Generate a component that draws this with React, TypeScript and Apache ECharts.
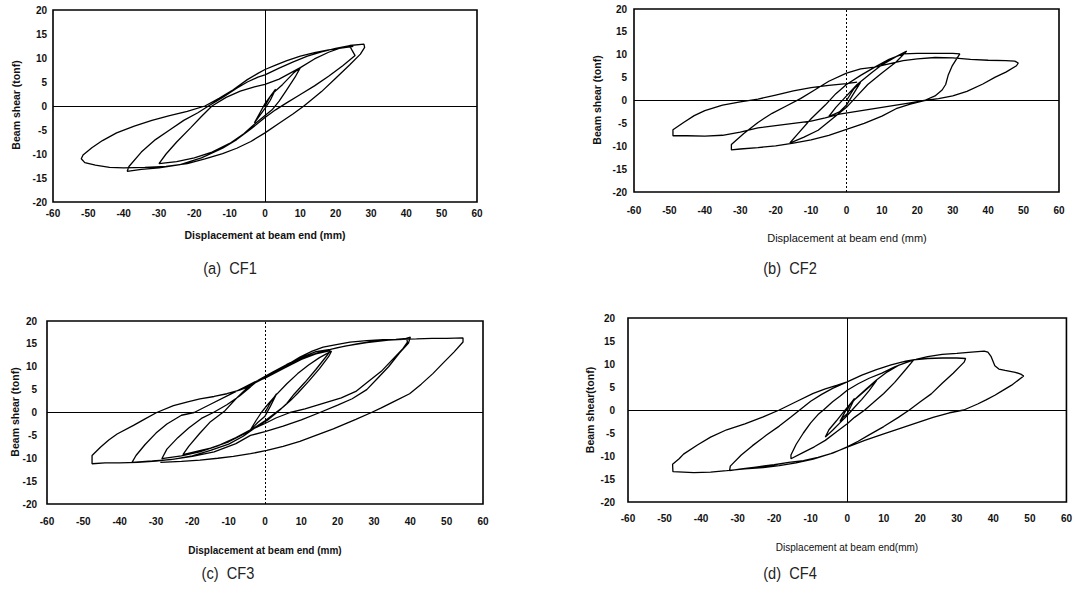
import React, { useEffect, useRef } from "react";
import * as echarts from "echarts";

// ---------- tick values ----------
const xTicks = [-60, -50, -40, -30, -20, -10, 0, 10, 20, 30, 40, 50, 60];
const yTicks = [-20, -15, -10, -5, 0, 5, 10, 15, 20];

// ---------- CF1 (displacement mm, shear tonf) ----------
const cf1Small: number[][] = [[0,0],[1.5,2],[3,3.5],[1.5,1.2],[0,-0.5],[-1.5,-2],[-3,-3.5],[-1.5,-1.5],[0,0.5],[2,2.5],[5,4.5],[8,6.8],[10,8]];
const cf1Cycle1: number[][] = [[10,8],[8.5,6],[6,3.2],[4,1],[2,-0.8],[0,-2],[-3,-3.8],[-6,-5.8],[-10,-7.8],[-15,-9.6],[-20,-10.8],[-25,-11.6],[-30,-12],[-28,-10],[-25,-7.5],[-21,-4.5],[-18,-2.2],[-15,0],[-11,1.8],[-7,3.1],[-3,4],[0,4.5],[4,5.6],[7,6.8],[10,8],[14,9.8],[18,11.2],[21,12],[24,12.5]];
const cf1Cycle2: number[][] = [[24,12.5],[24.5,11.8],[25.5,10.5],[22,8.4],[18,6.2],[14,4.2],[10,2.4],[6,0.6],[3,-0.8],[0,-2.4],[-4,-4.8],[-8,-7],[-12,-8.8],[-18,-10.8],[-24,-12.2],[-30,-12.9],[-35,-13.2],[-39,-13.6],[-38.5,-12.6],[-35,-9.6],[-31,-7],[-27,-5],[-23,-3],[-19,-1.4],[-16,0],[-12,1.8],[-8,3.7],[-5,5],[-2,6],[0,6.5],[4,7.9],[8,9.2],[12,10.4],[16,11.3],[20,12],[24,12.6],[28,12.9],[28.2,12.2]];
const cf1Cycle3: number[][] = [[28.2,12.2],[27,10.8],[24,8.6],[20,5.8],[16,3],[13,1.2],[11,0],[8,-1.6],[4,-3.6],[0,-5.6],[-4,-7.4],[-8,-8.8],[-12,-9.9],[-17,-11],[-22,-12],[-28,-12.6],[-34,-12.8],[-40,-12.9],[-44,-12.8],[-48,-12.3],[-51,-11.8],[-52,-11],[-51.5,-10.2],[-49,-8.7],[-46,-7.2],[-42,-5.6],[-37,-4.2],[-32,-3],[-27,-2],[-22,-1.1],[-17,0],[-13,1.6],[-9,3.4],[-5,5.5],[-2,6.8],[0,7.6],[3,8.5],[6,9.4],[10,10.4],[14,11.1],[18,11.7],[22,12.1],[25,12.4]];

// ---------- CF2 ----------
const cf2Small: number[][] = [[0,0],[2,2.5],[4,4],[2,1.5],[0,-1],[-2,-2.5],[-5,-3.5],[-3,-1.5],[0,1],[3,3.5],[7,6],[10,7.8],[14,9.6],[17,10.8]];
const cf2Cycle1: number[][] = [[17,10.8],[14,8.4],[10,6],[6,3.5],[3,1],[0,-1.5],[-4,-4],[-8,-6.5],[-12,-8],[-16,-9.3],[-14,-7.5],[-10,-4],[-6,-1],[-3,1.5],[0,3.5],[4,5.5],[8,7.3],[12,9],[16,10.2],[20,10.3],[25,10.3],[30,10.3],[32,10.2]];
const cf2Cycle2: number[][] = [[32,10.2],[31,9],[29.8,7.5],[28.7,5.5],[28,3.5],[27,2.3],[25,1],[22,0],[18,-0.8],[14,-1.8],[10,-3.4],[5,-5],[0,-6.3],[-5,-7.6],[-10,-8.6],[-15,-9.3],[-20,-9.9],[-25,-10.3],[-30,-10.6],[-32.5,-10.8],[-32.5,-9.6],[-29,-7.2],[-25,-4.8],[-21,-2.8],[-17,-1.2],[-13,0.4],[-9,2.3],[-5,4.2],[0,6],[4,6.9],[8,7.3],[12,8],[16,8.7],[20,9.1],[25,9.4],[30,9.3],[35,9],[40,8.8],[45,8.7],[47.5,8.6],[48.5,8.2],[48,7.6]];
const cf2Cycle3: number[][] = [[48,7.6],[45,6.2],[42,5.1],[38.5,3.6],[34,2],[30,1],[26,0.4],[22,0],[18,-0.5],[14,-1],[10,-1.5],[6,-2],[2,-2.5],[-2,-3],[-6,-3.8],[-10,-4.5],[-15,-5],[-20,-5.5],[-25,-6],[-30,-6.9],[-35,-7.6],[-40,-7.8],[-45,-7.7],[-49,-7.7],[-49,-6.4],[-46,-4.8],[-43,-3.3],[-40,-2.2],[-35,-1],[-30,-0.3],[-25,0.3],[-20,1.2],[-15,2.1],[-10,2.8],[-5,3.3],[0,3.7],[3,4]];

// ---------- CF3 ----------
const cf3Small: number[][] = [[0,0],[1.5,2.2],[3.2,4.1],[1.5,1.4],[0,-0.8],[-2,-2.2],[-4,-3.8],[-2.5,-1.8],[-1,0],[1,2],[3,3.8],[6,6.3],[9,8.5],[12,10.4],[15,12],[18.3,13.4]];
const cf3Cycle1: number[][] = [[18.3,13.4],[17.5,12.2],[15,9.6],[12,6.8],[9,4.2],[7,2.6],[5,1.2],[3,0],[0,-1.8],[-3,-3.4],[-6,-4.8],[-10,-6.4],[-15,-7.8],[-20,-8.7],[-22.6,-9.2],[-21,-7.4],[-18,-4.6],[-15,-2],[-11,0.4],[-8,3],[-5,5.3],[-2,6.9],[0,7.5],[5,9.6],[10,11.6],[14,12.8],[18,13.5]];
const cf3Cycle2: number[][] = [[18,13.5],[17,12.4],[14,9.4],[11,6.6],[8,4],[6,2],[4,0.5],[1,-1.5],[-2,-3],[-4,-3.8],[-8,-5.5],[-13,-7.3],[-18,-8.6],[-23,-9.5],[-28.4,-10.1],[-27,-8],[-24,-5.5],[-21,-3.4],[-17.5,-1.3],[-14.2,0],[-10.5,1.7],[-7,3.6],[-4,5.6],[-1.8,7.1],[2,8.8],[6,10.5],[10,12],[14,13.3],[18,13.8],[22,14.5],[28,15.3],[34,15.8],[38,16],[40,16.5],[39.5,15.2]];
const cf3Cycle3: number[][] = [[39.5,15.2],[37,13],[34,10],[31,7.5],[28,5],[24,3],[20,1.6],[15.1,0],[10,-1.6],[5,-3],[0,-4.2],[-4,-5],[-8,-6.8],[-14,-8.6],[-20,-9.6],[-26,-10.3],[-31,-10.6],[-36.6,-10.9],[-35.5,-9.4],[-33,-7],[-30,-4.5],[-27,-2.5],[-23,-0.6],[-19.5,0],[-15,1.8],[-10,3.8],[-6,5.4],[-2,7],[2,8.8],[6,10.3],[10,11.8],[15,13.2],[20,14.2],[26,15.1],[32,15.8],[36,16],[39,16.2],[39.2,15.4]];
const cf3Cycle4: number[][] = [[39.2,15.4],[38,14],[35,11.5],[32,9],[28,6.5],[25,4.6],[21,3.2],[16,2],[11,0.8],[6.9,0],[3,-1.2],[0,-2.4],[-3,-3.5],[-6,-5.2],[-10,-6.9],[-15,-8.3],[-20,-9.5],[-25,-10.2],[-30,-10.6],[-35,-10.9],[-40,-11],[-44,-11],[-47.6,-11.2],[-47.6,-9.4],[-45.3,-7.6],[-43,-6],[-40.7,-4.7],[-36.2,-2.8],[-33,-1.4],[-29.8,0],[-25.2,1.5],[-21,2.4],[-17.9,3],[-14,3.5],[-10.5,4.1],[-7,4.9],[-5,5.5],[-2.5,6.6],[-0.5,7.4],[2,8.5],[5,9.9],[9.6,12.1],[13,13.4],[16,14.3],[20,14.9],[23.4,15.4],[28,15.7],[32.5,15.9],[37,16],[41.7,16.1],[46,16.2],[50,16.2],[54.5,16.3],[54.5,15.4]];
const cf3Cycle5: number[][] = [[54.5,15.4],[52,13.2],[49,10.8],[46.2,8.5],[43,6.2],[39.8,4.1],[36,2.6],[32,1],[29.3,0],[25,-1.5],[18.8,-3.6],[14,-5],[9.6,-6.3],[5,-7.4],[0.5,-8.3],[-4,-9],[-8.7,-9.6],[-13,-10],[-17.9,-10.4],[-23,-10.7],[-28.8,-10.9]];

// ---------- CF4 ----------
const cf4Small: number[][] = [[0,0],[1,1.5],[2,2.5],[1,0.8],[0,-0.8],[-1,-1.5],[-2,-2.5],[-1,-1],[0,0.5],[2,2.2],[4,3.6],[6,5],[8.1,6.5],[6,4.2],[4,2.3],[2,0.6],[0,-1.2],[-2,-2.8],[-4,-4.4],[-6,-5.9],[-5,-4.3],[-3,-2.4],[-1,-0.4],[1,1.5],[3,3],[5.5,4.8],[8,6.5],[11,8.3],[14,9.7],[18.2,10.9]];
const cf4Cycle1: number[][] = [[18.2,10.9],[16,8.8],[13,6],[10,3.6],[7,1.5],[4.8,0],[2,-1.6],[0,-3],[-3,-4.8],[-6,-6.6],[-9,-8],[-12,-9.2],[-15.4,-10.6],[-15.4,-9.8],[-14,-7.5],[-12,-5],[-10,-2.8],[-8,-1],[-6.5,0],[-4,1.8],[-2,3],[0,4.3],[3,5.7],[6,6.9],[9.5,8],[13,9.4],[16,10.3],[18.2,10.9],[22,11.2],[26,11.3],[30,11.3],[32.4,11.2],[32,10.4]];
const cf4Cycle2: number[][] = [[32,10.4],[29,8],[26,5.8],[23,3.5],[20,1.8],[17,0],[14,-1.6],[10,-3.6],[6,-5.4],[3,-6.8],[0,-8],[-4,-9.4],[-8,-10.3],[-12,-11],[-16,-11.4],[-20,-11.9],[-25,-12.4],[-29,-12.8],[-32.2,-13.2],[-32,-12.2],[-29,-9.8],[-26,-7.8],[-22,-5.4],[-18.6,-3.5],[-15.5,-1.6],[-13,0],[-10,1.9],[-7,3.4],[-4,4.7],[-2,5.4],[0,6.1],[4,7.6],[8,8.8],[12,9.8],[16,10.6],[18.8,11],[22,11.6],[26,12.1],[30,12.3],[34,12.6],[37.5,12.8],[38.5,12.6],[39.4,11.6],[40.4,9.6],[41.5,8.9],[43.2,8.6],[46,8.2],[47.5,7.8],[48.3,7.4]];
const cf4Cycle3: number[][] = [[48.3,7.4],[45,5.4],[42.5,4.2],[40.4,3.2],[38,2.2],[35.7,1.3],[31.9,0],[28,-0.6],[23.5,-1.6],[19,-2.8],[14.1,-4.1],[10,-5.2],[4.8,-6.6],[0,-8.1],[-4.5,-9.5],[-9.3,-10.7],[-14,-11.5],[-18.6,-12.1],[-23,-12.5],[-28,-12.8],[-33,-13.2],[-37.4,-13.5],[-42,-13.6],[-47.7,-13.4],[-47.8,-11.8],[-46,-10.6],[-44.8,-9.6],[-41,-7.6],[-37.4,-5.9],[-33,-4.3],[-28,-3],[-23,-1.5],[-18.6,0],[-14,1.8],[-9.3,3.6],[-6,4.6],[-2.7,5.4],[0,6.1]];

const panelCurves = [
  [cf1Small, cf1Cycle1, cf1Cycle2, cf1Cycle3],
  [cf2Small, cf2Cycle1, cf2Cycle2, cf2Cycle3],
  [cf3Small, cf3Cycle1, cf3Cycle2, cf3Cycle3, cf3Cycle4, cf3Cycle5],
  [cf4Small, cf4Cycle1, cf4Cycle2, cf4Cycle3],
];
const captions = ["(a)  CF1", "(b)  CF2", "(c)  CF3", "(d)  CF4"];
const xTitles = [
  "Displacement at beam end (mm)",
  "Displacement at beam end (mm)",
  "Displacement at beam end (mm)",
  "Displacement at beam end(mm)",
];
const yTitles = ["Beam shear (tonf)", "Beam shear (tonf)", "Beam shear (tonf)", "Beam shear(tonf)"];

// layout
const grids = [
  { left: 53, top: 10, width: 424, height: 192 },
  { left: 634, top: 9, width: 425, height: 183 },
  { left: 47, top: 321, width: 436, height: 183 },
  { left: 628, top: 318, width: 439, height: 184 },
];
const xLabelMargin = [6, 13, 12, 11];
const yLabelMargin = [6, 7, 10, 13];
const vZeroType: any[] = ["solid", [2, 2], [2, 2], "solid"];
const xTitlePos = [[265, 235, "bold", 10.5], [847, 238, "normal", 11], [265, 550, "bold", 10], [847, 547, "normal", 10]];
const yTitlePos = [[16, 105], [597, 100], [15, 412], [590, 410]];
const captionPos = [[230, 268], [790, 268], [228, 573], [790, 573]];

export default function App() {
  const ref = useRef<HTMLDivElement>(null);
  useEffect(() => {
    if (!ref.current) return;
    const chart = echarts.init(ref.current, null, { renderer: "svg" });
    const labelFont = { fontFamily: "Liberation Sans, Arial, sans-serif", fontWeight: "bold" as const, fontSize: 10, color: "#111" };
    const graphics: any[] = [];
    grids.forEach((g, i) => {
      const xt: any = xTitlePos[i];
      graphics.push({
        type: "text", x: xt[0], y: xt[1],
        style: { text: xTitles[i], align: "center", verticalAlign: "middle", fill: "#111",
          font: `${xt[2]} ${xt[3]}px "Liberation Sans", Arial, sans-serif` },
      });
      graphics.push({
        type: "text", x: yTitlePos[i][0], y: yTitlePos[i][1], rotation: Math.PI / 2,
        style: { text: yTitles[i], align: "center", verticalAlign: "middle", fill: "#111",
          font: `bold 10.5px "Liberation Sans", Arial, sans-serif` },
      });
      graphics.push({
        type: "text", x: captionPos[i][0], y: captionPos[i][1], scaleX: 0.86,
        style: { text: captions[i], align: "center", verticalAlign: "middle", fill: "#222",
          font: `17px "Liberation Sans Narrow", "Liberation Sans", Arial, sans-serif` },
      });
    });
    chart.setOption({
      animation: false,
      backgroundColor: "#fff",
      grid: grids.map((g) => ({ ...g, show: true, borderColor: "#000", borderWidth: 1.6, backgroundColor: "transparent" })),
      xAxis: grids.map((_, i) => ({
        type: "value", gridIndex: i, min: xTicks[0], max: xTicks[xTicks.length - 1], interval: 10,
        position: "bottom",
        axisLine: { show: false, onZero: false }, axisTick: { show: false }, splitLine: { show: false },
        axisLabel: { ...labelFont, margin: xLabelMargin[i] },
      })),
      yAxis: grids.map((_, i) => ({
        type: "value", gridIndex: i, min: yTicks[0], max: yTicks[yTicks.length - 1], interval: 5,
        axisLine: { show: false, onZero: false }, axisTick: { show: false }, splitLine: { show: false },
        axisLabel: { ...labelFont, margin: yLabelMargin[i] },
      })),
      series: panelCurves.map((cycles, i) => ({
        type: "line", xAxisIndex: i, yAxisIndex: i,
        data: ([] as number[][]).concat(...cycles),
        showSymbol: false, symbol: "none", smooth: false,
        lineStyle: { color: "#000", width: 1.3 },
        markLine: {
          silent: true, symbol: "none", label: { show: false },
          data: [
            { xAxis: 0, lineStyle: { color: "#000", width: 1, type: vZeroType[i] } },
            { yAxis: 0, lineStyle: { color: "#000", width: 1, type: "solid" } },
          ],
        },
      })),
      graphic: graphics,
    });
    return () => chart.dispose();
  }, []);
  return <div ref={ref} style={{ position: "fixed", left: 0, top: 0, width: 1075, height: 593 }} />;
}
